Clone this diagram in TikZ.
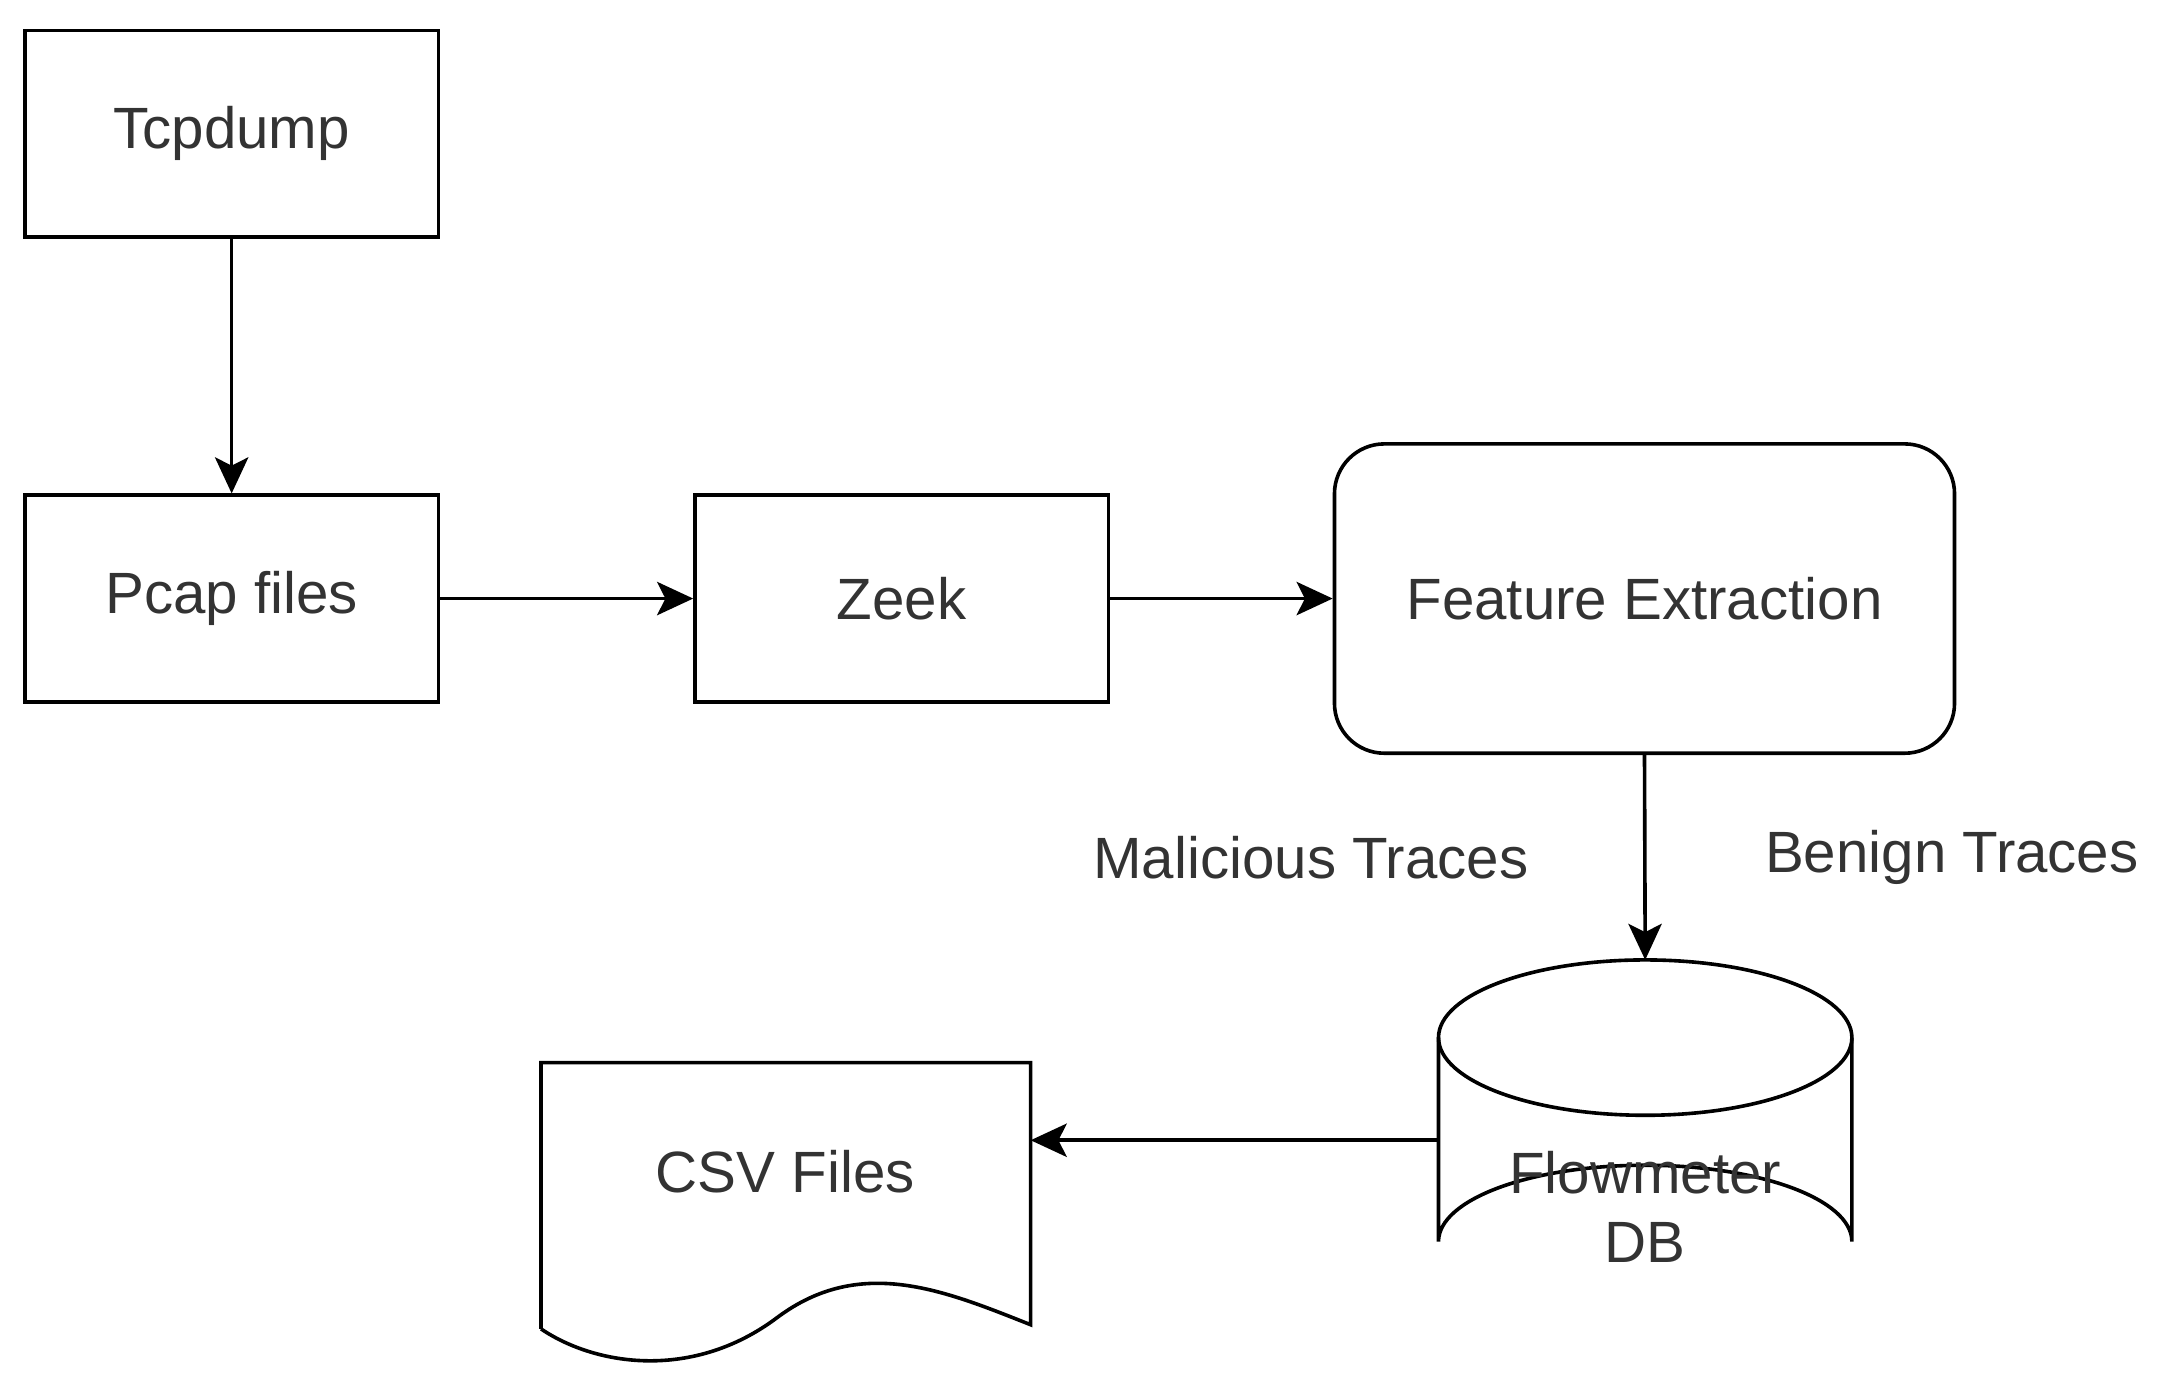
\documentclass[tikz,border=0pt]{standalone}
\usepackage{fontspec}
\setmainfont{Liberation Sans}
\usetikzlibrary{arrows.meta}
\begin{document}
\begin{tikzpicture}[x=0.5pt,y=-0.5pt,
  box/.style={draw,line width=1.3pt,minimum width=149pt,minimum height=74.5pt,inner sep=0pt,font=\fontsize{21}{25}\selectfont,text=black!80},
  lbl/.style={font=\fontsize{21}{25}\selectfont,text=black!80},
  arr/.style={line width=1.3pt,-{Stealth[length=13pt,width=12pt,inset=3pt]}}]
\useasboundingbox (0,0) rectangle (1560,1004);
\node[box] (tcp) at (167,96.5) {Tcpdump};
\node[box] (pcap) at (167,431.5) {Pcap files};
\node[box] (zeek) at (650,431.5) {Zeek};
\node[box,rounded corners=18pt,minimum width=223.5pt,minimum height=111.5pt] (fe) at (1185.5,431.5) {Feature Extraction};
% cylinder
\draw[line width=1.3pt] (1037,748) arc[start angle=180,end angle=0,x radius=149,y radius=56]
  arc[start angle=0,end angle=-180,x radius=149,y radius=56];
\draw[line width=1.3pt] (1037,748) -- (1037,895) arc[start angle=180,end angle=360,x radius=149,y radius=55] -- (1335,748);
\coordinate (dbtop) at (1186,692);
\coordinate (dbleft) at (1037,822);
\node[lbl,align=center] (db) at (1186,870) {Flowmeter\\DB};
% document
\draw[line width=1.3pt] (390,958) -- (390,766) -- (743,766) -- (743,955)
  .. controls (680,930) and (620,905) .. (560,950)
  .. controls (500,995) and (430,985) .. (390,958);
\coordinate (csvright) at (743,822);
\node[lbl] (csv) at (566,845) {CSV Files};
\node[lbl] (mal) at (945,618) {Malicious Traces};
\node[lbl] (ben) at (1407,618) {Benign Traces};
\draw[arr] (tcp) -- (pcap);
\draw[arr] (pcap) -- (zeek);
\draw[arr] (zeek) -- (fe);
\draw[arr] (fe.south) -- (dbtop);
\draw[arr] (dbleft) -- (csvright);
\end{tikzpicture}
\end{document}
